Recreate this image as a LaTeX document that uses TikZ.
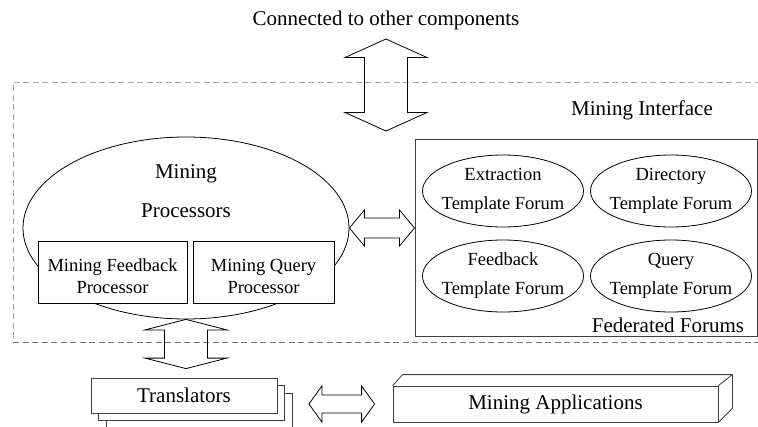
\documentclass[tikz,border=0pt]{standalone}
\usepackage{fontspec}
\setmainfont{Liberation Serif}
\usetikzlibrary{calc,shapes.geometric}

% vertical double block arrow: top tip, bottom tip, head half-width, shaft half-width, head length
\newcommand\vblockarrow[5]{%
  \draw[blockarrow] let \p1=#1, \p2=#2 in
    (\x1,\y1) -- (\x1+#3,\y1-#5) -- (\x1+#4,\y1-#5) -- (\x1+#4,\y2+#5)
    -- (\x1+#3,\y2+#5) -- (\x1,\y2) -- (\x1-#3,\y2+#5) -- (\x1-#4,\y2+#5)
    -- (\x1-#4,\y1-#5) -- (\x1-#3,\y1-#5) -- cycle;}
% horizontal double block arrow: left tip, right tip, head half-height, shaft half-height, head length
\newcommand\hblockarrow[5]{%
  \draw[blockarrow] let \p1=#1, \p2=#2 in
    (\x1,\y1) -- (\x1+#5,\y1+#3) -- (\x1+#5,\y1+#4) -- (\x2-#5,\y1+#4)
    -- (\x2-#5,\y1+#3) -- (\x2,\y1) -- (\x2-#5,\y1-#3) -- (\x2-#5,\y1-#4)
    -- (\x1+#5,\y1-#4) -- (\x1+#5,\y1-#3) -- cycle;}

\begin{document}
\begin{tikzpicture}[x=1pt,y=-1pt,
  lbl/.style={font=\fontsize{21}{25}\selectfont, inner sep=0pt},
  forum/.style={ellipse, draw, line width=0.8pt, minimum width=161pt, minimum height=72pt, inner sep=0pt},
  forumtxt/.style={align=center, inner sep=0pt, font=\fontsize{18.5}{29}\selectfont},
  procbox/.style={draw, line width=0.8pt, fill=white, inner sep=0pt, minimum height=62pt},
  boxtxt/.style={align=center, inner sep=0pt, font=\fontsize{18.5}{22}\selectfont},
  stackbox/.style={draw=black!75, line width=0.8pt, fill=white, minimum width=186pt, minimum height=35pt, inner sep=0pt},
  blockarrow/.style={draw, line width=0.8pt, line join=miter},
  ifdash/.style={dash pattern=on 6pt off 3.5pt, line width=0.9pt}
]
\useasboundingbox (0,0) rectangle (758,426);

% mining interface region (dashed)
\draw[ifdash, black!35] (770,82) -- (13,82) -- (13,342);
\draw[ifdash, black!55] (13,342) -- (770,342);

% top caption
\node[lbl, anchor=base] (conn) at (386,25) {Connected to other components};
\node[lbl, anchor=base] (iface) at (642,115) {Mining Interface};
\coordinate (ifaceIn) at (386,131);

% mining processors
\node[ellipse, draw, line width=0.8pt, minimum width=326pt, minimum height=182pt, inner sep=0pt] (procs) at (186,228) {};
\node[lbl, anchor=base] (mtxt) at (186,178) {Mining};
\node[lbl, anchor=base] (ptxt) at (186,217) {Processors};
\node[procbox, minimum width=149pt, label={[boxtxt, yshift=-4.5pt]center:Mining Feedback\\Processor}] (mfp) at (112.5,272) {};
\node[procbox, minimum width=141pt, label={[boxtxt, yshift=-4.5pt]center:Mining Query\\Processor}] (mqp) at (263.5,272) {};

% federated forums
\node[draw=black!75, line width=1pt, minimum width=342pt, minimum height=197pt, inner sep=0pt] (fed) at (586,237.5) {};
\node[forum, label={[forumtxt]center:Extraction\\Template Forum}] (ext) at (503,191) {};
\node[forum, label={[forumtxt]center:Directory\\Template Forum}] (dir) at (671,191) {};
\node[forum, label={[forumtxt]center:Feedback\\Template Forum}] (fbk) at (503,276) {};
\node[forum, label={[forumtxt]center:Query\\Template Forum}] (qry) at (671,276) {};
\node[lbl, anchor=base] (fedtxt) at (668,332) {Federated Forums};

% translators (stacked)
\node[stackbox] (trans3) at (199,410.5) {};
\node[stackbox] (trans2) at (191.5,403) {};
\node[stackbox, lbl, minimum width=186pt, minimum height=35pt] (trans) at (184,395.5) {Translators};

% mining applications (3-D bar)
\node[draw=black!75, line width=0.8pt, minimum width=325pt, minimum height=36pt, inner sep=0pt, lbl] (apps) at (555.5,404) {Mining Applications};
\draw[black!75, line width=0.8pt, line join=round]
  (apps.north west) -- ++(10pt,11pt) -- ($(apps.north east)+(14pt,11pt)$) -- (apps.north east)
  ($(apps.north east)+(14pt,11pt)$) -- ($(apps.south east)+(14pt,14pt)$) -- (apps.south east);

% block arrows
\vblockarrow{($(conn.base)+(0,-14pt)$)}{(ifaceIn)}{41pt}{21.5pt}{18.5pt}
\hblockarrow{(procs.east)}{(fed.west |- procs.east)}{18pt}{10pt}{15pt}
\vblockarrow{(procs.south)}{($(trans.north)+(0,9pt)$)}{41pt}{21.5pt}{10.5pt}
\hblockarrow{($(trans3.east |- apps.west)+(16.5pt,0)$)}{($(apps.west)+(-18pt,0)$)}{18pt}{9pt}{13pt}
\end{tikzpicture}
\end{document}
